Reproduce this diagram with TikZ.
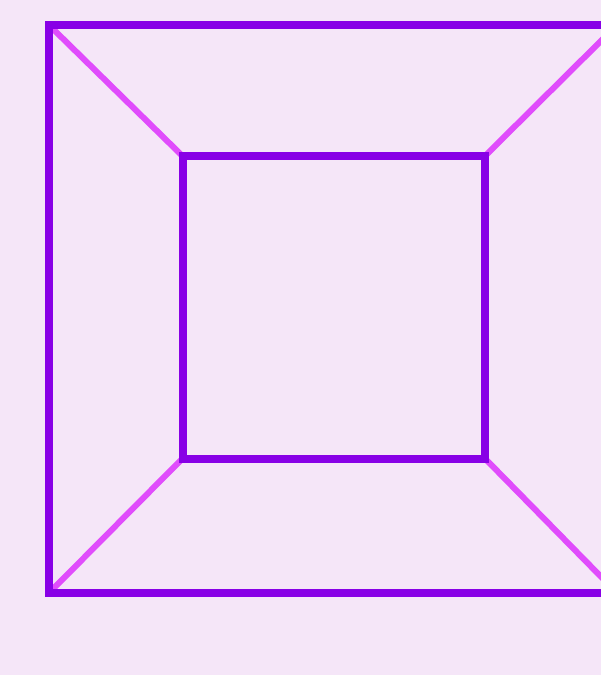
\documentclass[tikz,border=0pt]{standalone}
\definecolor{bgc}{RGB}{245,230,248}
\definecolor{framec}{RGB}{136,0,230}
\definecolor{diagc}{RGB}{224,76,252}
\tikzset{
  frameline/.style={draw=framec,line width=8pt,line join=miter},
  diagline/.style={draw=diagc,line width=6pt}
}
\begin{document}
\begin{tikzpicture}[x=1pt,y=-1pt]
\fill[bgc] (0,0) rectangle (601,675);
\useasboundingbox (0,0) rectangle (601,675);
\coordinate (o1) at (49,25);
\coordinate (o2) at (617,25);
\coordinate (o3) at (617,593);
\coordinate (o4) at (49,593);
\coordinate (i1) at (182.5,156);
\coordinate (i2) at (485,156);
\coordinate (i3) at (485,458.5);
\coordinate (i4) at (182.5,458.5);
\draw[diagline] (o1) -- (i1);
\draw[diagline] (o2) -- (i2);
\draw[diagline] (o3) -- (i3);
\draw[diagline] (o4) -- (i4);
\draw[frameline] (o1) -- (o2) -- (o3) -- (o4) -- cycle;
\draw[frameline] (i1) -- (i2) -- (i3) -- (i4) -- cycle;
\end{tikzpicture}
\end{document}
